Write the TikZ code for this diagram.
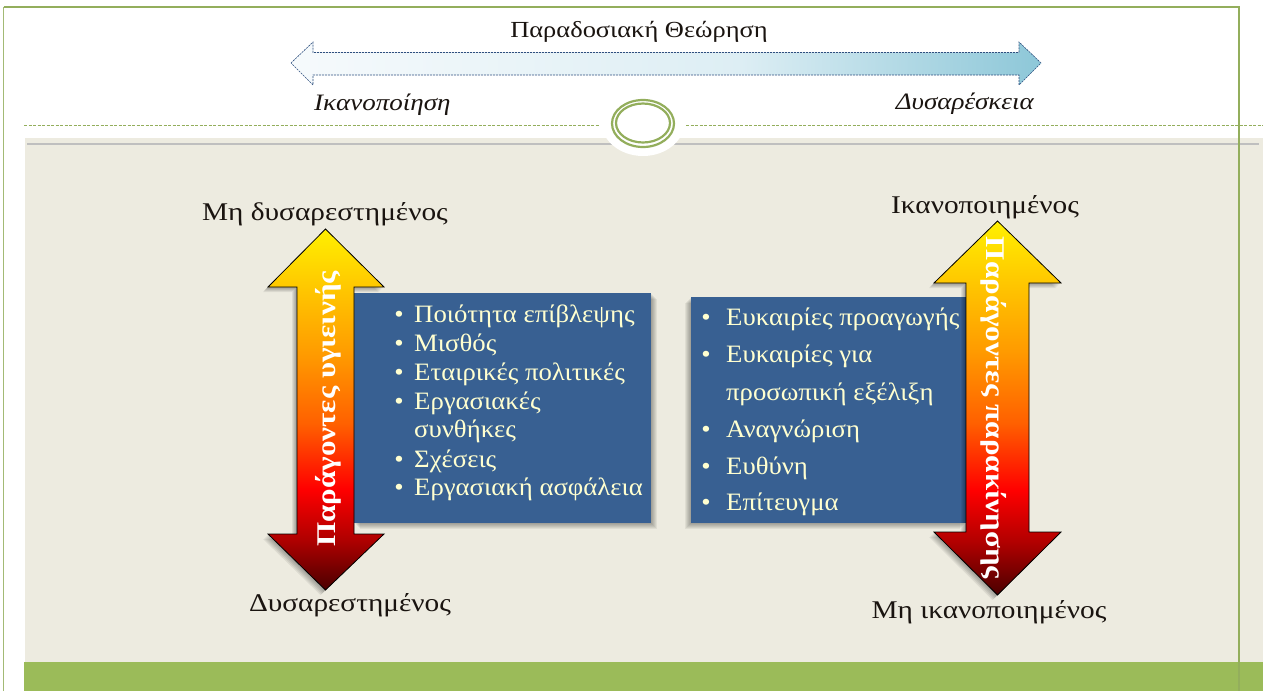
\documentclass[tikz,border=0pt]{standalone}
\usepackage{fontspec}
\setmainfont[FakeStretch=1.15]{Liberation Serif}
\newfontfamily\boxfont[FakeStretch=1.07]{Liberation Serif}
\usetikzlibrary{calc}
\definecolor{framegreen}{HTML}{93AE5C}
\definecolor{bandgreen}{HTML}{9BBB59}
\definecolor{beige}{HTML}{EDEBE0}
\definecolor{boxblue}{HTML}{386092}
\definecolor{cream}{HTML}{FFFFD0}
\definecolor{ink}{HTML}{1A1410}
\definecolor{hotA}{HTML}{4A0000}
\definecolor{hotB}{HTML}{B00000}
\definecolor{hotC}{HTML}{FF0000}
\definecolor{hotD}{HTML}{FF6000}
\definecolor{hotE}{HTML}{FF9A00}
\definecolor{hotF}{HTML}{FFC800}
\definecolor{hotG}{HTML}{FFF000}
\definecolor{skyA}{HTML}{F6FAFC}
\definecolor{skyB}{HTML}{DDEEF4}
\definecolor{skyC}{HTML}{8DC7D8}
\definecolor{arrowblue}{HTML}{2E4F7F}
\pgfdeclareverticalshading{hotshade}{100bp}{color(0bp)=(hotA); color(25bp)=(hotA); color(32bp)=(hotB); color(39bp)=(hotC); color(48bp)=(hotD); color(57.5bp)=(hotE); color(67bp)=(hotF); color(75bp)=(hotG); color(100bp)=(hotG)}
\pgfdeclarehorizontalshading{skyshade}{100bp}{color(0bp)=(skyA); color(25bp)=(skyA); color(55bp)=(skyB); color(75bp)=(skyC); color(100bp)=(skyC)}
\tikzset{
  label/.style={font=\fontsize{25.5}{28}\selectfont, text=ink, inner sep=0pt},
  ilabel/.style={font=\fontsize{23.5}{26}\selectfont\itshape, text=ink, inner sep=0pt},
  boxtext/.style={font=\boxfont\fontsize{25}{28}\selectfont, text=cream, inner sep=0pt},
  arrowtext/.style={font=\fontsize{27}{30}\selectfont\bfseries, text=white, inner sep=0pt},
  hotarrow/.style={shading=hotshade, draw=black, line width=0.8pt, line join=miter},
}
\begin{document}
\begin{tikzpicture}[x=1pt,y=-1pt]
\useasboundingbox (0,0) rectangle (1263,691);
\fill[white] (0,0) rectangle (1263,691);
% panel, band, rules
\fill[beige] (25,138) rectangle (1263,662);
\fill[bandgreen] (24,662) rectangle (1263,691);
\draw[black!25, line width=1.2pt] (27,144) -- (1259,144);
\draw[framegreen, line width=1pt, dash pattern=on 3pt off 1.5pt] (24,125) -- (600,125);
\draw[framegreen, line width=1pt, dash pattern=on 3pt off 1.5pt] (686,125) -- (1263,125);
\draw[framegreen!85!white, line width=1.2pt] (3.5,691) -- (3.5,7);
\draw[framegreen, line width=1.2pt] (3.5,7) -- (1239,7) -- (1239,691);
% circle ornament
\fill[white] (643,121) ellipse [x radius=42, y radius=35];
\draw[framegreen, line width=2.2pt] (643,123.5) ellipse [x radius=31, y radius=23.5];
\draw[framegreen, line width=2.2pt] (643,123) ellipse [x radius=27, y radius=19.5];
% top arrow
\path[shading=skyshade, draw=arrowblue, line width=0.6pt, dash pattern=on 2pt off 1pt]
  (291,63) -- (313,42) -- (313,52.5) -- (1019,52.5) -- (1019,42) -- (1041,63)
  -- (1019,85) -- (1019,75) -- (313,75) -- (313,85) -- cycle;
\node[font=\fontsize{23}{26}\selectfont, text=ink, inner sep=0pt, anchor=base] (title) at (639,37) {Παραδοσιακή Θεώρηση};
\node[ilabel, anchor=base west] (sat) at (314,110) {Ικανοποίηση};
\node[ilabel, anchor=base east] (dis) at (1034,109) {Δυσαρέσκεια};
% left box
\foreach \o in {1,...,6} \fill[black, opacity=0.06] (354+\o,293+\o) rectangle (651+\o,523+\o);
\fill[boxblue] (354,293) rectangle (651,523);
\foreach \t/\yy [count=\i] in {Ποιότητα επίβλεψης/322.7, Μισθός/351, Εταιρικές πολιτικές/380, Εργασιακές/409, Σχέσεις/467, Εργασιακή ασφάλεια/495}
  {\node[boxtext, anchor=base] (lb\i) at (399,\yy) {•};
   \node[boxtext, anchor=base west] (lt\i) at (414,\yy) {\t};}
\node[boxtext, anchor=base west] (lt7) at (414,437) {συνθήκες};
% right box
\foreach \o in {1,...,6} \fill[black, opacity=0.06] (691-\o,297+\o) rectangle (966-\o,523+\o);
\fill[boxblue] (691,297) rectangle (966,523);
\foreach \t/\yy [count=\i] in {Ευκαιρίες προαγωγής/325.7, Ευκαιρίες για/362.7, Αναγνώριση/437, Ευθύνη/474.7, Επίτευγμα/510}
  {\node[boxtext, anchor=base] (rb\i) at (706,\yy) {•};
   \node[boxtext, anchor=base west] (rt\i) at (726,\yy) {\t};}
\node[boxtext, anchor=base west] (rt6) at (726,400) {προσωπική εξέλιξη};
% left arrow
\foreach \o in {1,...,5} \fill[black, opacity=0.07, shift={(-\o,\o)}]
  (325.5,229) -- (384,287) -- (354,287) -- (354,534) -- (384,534) -- (325.5,590)
  -- (268,534) -- (297,534) -- (297,287) -- (268,287) -- cycle;
\path[hotarrow]
  (325.5,229) -- (384,287) -- (354,287) -- (354,534) -- (384,534) -- (325.5,590)
  -- (268,534) -- (297,534) -- (297,287) -- (268,287) -- cycle;
\node[arrowtext, rotate=90] (hyg) at (328,409) {Παράγοντες υγιεινής};
% right arrow
\foreach \o in {1,...,5} \fill[black, opacity=0.07, shift={(-\o,\o)}]
  (997.5,221) -- (1061,283) -- (1029,283) -- (1029,532) -- (1061,532) -- (997.5,595)
  -- (934,532) -- (966,532) -- (966,283) -- (934,283) -- cycle;
\path[hotarrow]
  (997.5,221) -- (1061,283) -- (1029,283) -- (1029,532) -- (1061,532) -- (997.5,595)
  -- (934,532) -- (966,532) -- (966,283) -- (934,283) -- cycle;
\node[arrowtext, rotate=-90] (mot) at (994,408) {Παράγοντες παρακίνησης};
% end labels
\node[label, anchor=base] (ltop) at (325,220) {Μη δυσαρεστημένος};
\node[label, anchor=base] (lbot) at (350,611) {Δυσαρεστημένος};
\node[label, anchor=base] (rtop) at (985,213) {Ικανοποιημένος};
\node[label, anchor=base] (rbot) at (989,618) {Μη ικανοποιημένος};
\end{tikzpicture}
\end{document}
